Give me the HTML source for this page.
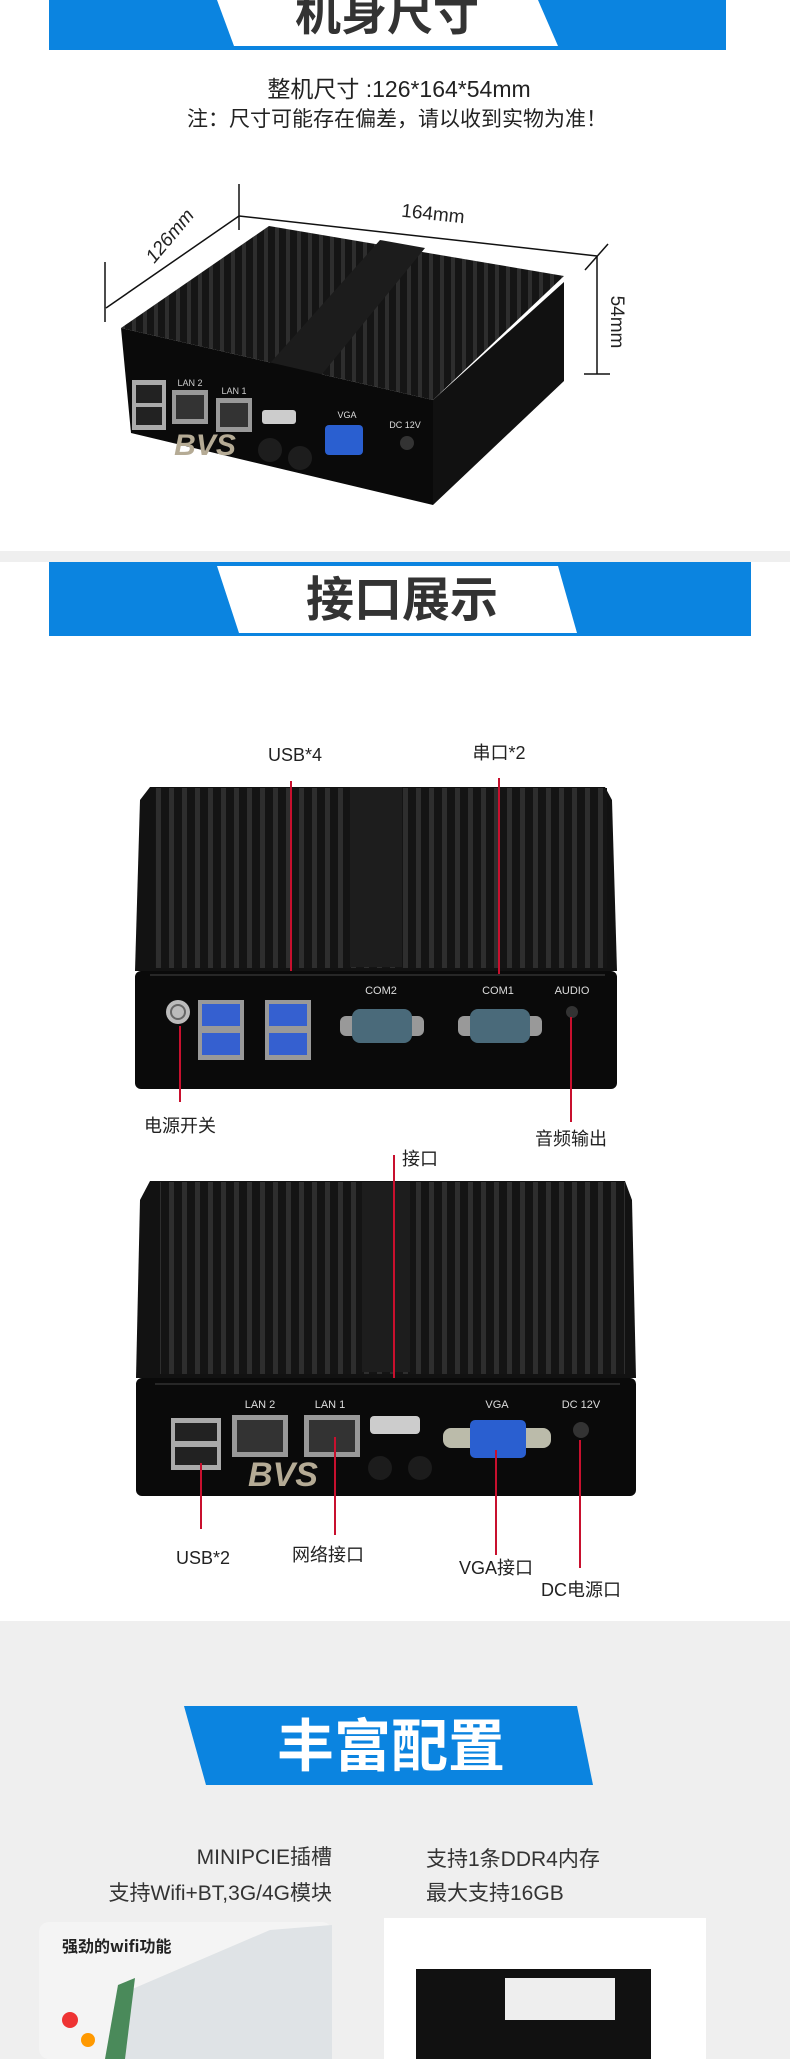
<!DOCTYPE html>
<html><head><meta charset="utf-8">
<style>
*{margin:0;padding:0}
html,body{width:790px;height:2059px;overflow:hidden}
body{background:#efefef;font-family:"Liberation Sans","Noto Sans CJK SC",sans-serif;position:relative}
.abs{position:absolute}
.t{position:absolute;white-space:nowrap;color:#222;transform:translateX(-50%);line-height:1}
</style></head><body>
<div class="abs" style="left:0;top:0;width:790px;height:551px;background:#fff"></div>
<div class="abs" style="left:0;top:562px;width:790px;height:1059px;background:#fff"></div>

<svg class="abs" style="left:0;top:0" width="790" height="2059" viewBox="0 0 790 2059">
<defs>
<pattern id="fin" width="11" height="10" patternUnits="userSpaceOnUse">
<rect width="11" height="10" fill="#151515"/><rect x="0" width="4" height="10" fill="#2e2e2e"/>
</pattern>
<pattern id="fin2" width="13" height="10" patternUnits="userSpaceOnUse">
<rect width="13" height="10" fill="#141414"/><rect x="0" width="5" height="10" fill="#2e2e2e"/>
</pattern>
</defs>
<!-- banner 1 -->
<rect x="49" y="0" width="677" height="50" fill="#0b84e0"/>
<polygon points="217,0 538,0 558,46 234,46" fill="#fff"/>
<text x="387" y="30" font-size="46" font-weight="bold" fill="#333" text-anchor="middle" font-family="Noto Sans CJK SC">机身尺寸</text>
<!-- dimension lines -->
<g stroke="#111" stroke-width="1.5" fill="none">
<line x1="239" y1="184" x2="239" y2="230"/>
<line x1="105" y1="262" x2="105" y2="322"/>
<line x1="239" y1="216" x2="106" y2="308"/>
<line x1="239" y1="216" x2="597" y2="256"/>
<line x1="585" y1="270" x2="608" y2="244"/>
<line x1="597" y1="256" x2="597" y2="374"/>
<line x1="584" y1="374" x2="610" y2="374"/>
</g>
<text x="433" y="220" font-size="19" fill="#222" text-anchor="middle" transform="rotate(6 433 214)">164mm</text>
<text x="170" y="242" font-size="19" fill="#222" text-anchor="middle" transform="rotate(-50 170 236)" font-style="italic">126mm</text>
<text x="611" y="322" font-size="19" fill="#222" text-anchor="middle" transform="rotate(90 611 322)">54mm</text>
<!-- device 1 -->
<polygon points="121,328 269,226 564,276 433,400" fill="url(#fin)"/>
<polygon points="255,380 380,240 425,248 305,395" fill="#1c1c1c"/>
<polygon points="121,328 433,400 433,505 131,433" fill="#0a0a0a"/>
<polygon points="433,400 564,282 564,381 433,505" fill="#111"/>
<rect x="132" y="380" width="34" height="50" fill="#aaa"/><rect x="136" y="385" width="26" height="18" fill="#222"/><rect x="136" y="407" width="26" height="18" fill="#222"/>
<rect x="172" y="390" width="36" height="34" fill="#999"/><rect x="176" y="395" width="28" height="24" fill="#333"/>
<rect x="216" y="398" width="36" height="34" fill="#999"/><rect x="220" y="403" width="28" height="24" fill="#333"/>
<text x="190" y="386" font-size="9" fill="#ccc" text-anchor="middle">LAN 2</text>
<text x="234" y="394" font-size="9" fill="#ccc" text-anchor="middle">LAN 1</text>
<rect x="262" y="410" width="34" height="14" rx="3" fill="#ccc"/>
<rect x="325" y="425" width="38" height="30" rx="4" fill="#2a5fd0"/>
<text x="347" y="418" font-size="9" fill="#ddd" text-anchor="middle">VGA</text>
<text x="405" y="428" font-size="9" fill="#ddd" text-anchor="middle">DC 12V</text>
<circle cx="407" cy="443" r="7" fill="#333"/>
<text x="205" y="455" font-size="30" font-weight="bold" font-style="italic" fill="#b5ab95" text-anchor="middle">BVS</text>
<circle cx="270" cy="450" r="12" fill="#1d1d1d"/><circle cx="300" cy="458" r="12" fill="#1d1d1d"/>

<!-- banner 2 -->
<rect x="49" y="562" width="702" height="74" fill="#0b84e0"/>
<polygon points="217,566 558,566 577,633 239,633" fill="#fff"/>
<text x="402" y="616" font-size="48" font-weight="bold" fill="#333" text-anchor="middle" font-family="Noto Sans CJK SC">接口展示</text>

<!-- device 2 -->
<path d="M150,787 L605,787 L612,800 L617,971 L135,971 L140,800 Z" fill="#121212"/>
<rect x="155" y="788" width="452" height="180" fill="url(#fin2)"/>
<rect x="350" y="787" width="52" height="180" fill="#1d1d1d"/>
<rect x="135" y="971" width="482" height="118" rx="6" fill="#0a0a0a"/>
<line x1="150" y1="975" x2="605" y2="975" stroke="#444"/>
<circle cx="178" cy="1012" r="12" fill="#bbb"/><circle cx="178" cy="1012" r="7" fill="none" stroke="#666" stroke-width="2"/>
<rect x="198" y="1000" width="46" height="60" fill="#999"/><rect x="202" y="1004" width="38" height="22" fill="#3560d0"/><rect x="202" y="1033" width="38" height="22" fill="#3560d0"/>
<rect x="265" y="1000" width="46" height="60" fill="#999"/><rect x="269" y="1004" width="38" height="22" fill="#3560d0"/><rect x="269" y="1033" width="38" height="22" fill="#3560d0"/>
<text x="381" y="994" font-size="11" fill="#ddd" text-anchor="middle">COM2</text>
<text x="498" y="994" font-size="11" fill="#ddd" text-anchor="middle">COM1</text>
<text x="572" y="994" font-size="11" fill="#ddd" text-anchor="middle">AUDIO</text>
<rect x="340" y="1016" width="84" height="20" rx="6" fill="#999"/><rect x="352" y="1009" width="60" height="34" rx="8" fill="#4a6a7a"/>
<rect x="458" y="1016" width="84" height="20" rx="6" fill="#999"/><rect x="470" y="1009" width="60" height="34" rx="8" fill="#4a6a7a"/>
<circle cx="572" cy="1012" r="6" fill="#333"/>

<!-- device 3 -->
<path d="M150,1181 L625,1181 L632,1200 L636,1378 L136,1378 L140,1200 Z" fill="#121212"/>
<rect x="160" y="1182" width="465" height="192" fill="url(#fin2)"/>
<rect x="362" y="1182" width="48" height="190" fill="#1d1d1d"/>
<rect x="136" y="1378" width="500" height="118" rx="6" fill="#0a0a0a"/>
<line x1="155" y1="1384" x2="620" y2="1384" stroke="#444"/>
<rect x="171" y="1418" width="50" height="52" fill="#aaa"/><rect x="175" y="1423" width="42" height="18" fill="#222"/><rect x="175" y="1447" width="42" height="18" fill="#222"/>
<rect x="232" y="1415" width="56" height="42" fill="#999"/><rect x="237" y="1420" width="46" height="32" fill="#333"/>
<rect x="304" y="1415" width="56" height="42" fill="#999"/><rect x="309" y="1420" width="46" height="32" fill="#333"/>
<text x="260" y="1408" font-size="11" fill="#ddd" text-anchor="middle">LAN 2</text>
<text x="330" y="1408" font-size="11" fill="#ddd" text-anchor="middle">LAN 1</text>
<rect x="370" y="1416" width="50" height="18" rx="4" fill="#ccc"/>
<text x="497" y="1408" font-size="11" fill="#ddd" text-anchor="middle">VGA</text>
<text x="581" y="1408" font-size="11" fill="#ddd" text-anchor="middle">DC 12V</text>
<rect x="443" y="1428" width="108" height="20" rx="8" fill="#bba"/>
<rect x="470" y="1420" width="56" height="38" rx="5" fill="#2a5fd0"/>
<circle cx="581" cy="1430" r="8" fill="#333"/>
<text x="283" y="1486" font-size="34" font-weight="bold" font-style="italic" fill="#b5ab95" text-anchor="middle">BVS</text>
<circle cx="380" cy="1468" r="12" fill="#1c1c1c"/><circle cx="420" cy="1468" r="12" fill="#1c1c1c"/>

<!-- red lines -->
<g stroke="#c8102e" stroke-width="2">
<line x1="291" y1="781" x2="291" y2="971"/>
<line x1="499" y1="778" x2="499" y2="974"/>
<line x1="180" y1="1026" x2="180" y2="1102"/>
<line x1="571" y1="1017" x2="571" y2="1122"/>
<line x1="394" y1="1155" x2="394" y2="1378"/>
<line x1="201" y1="1463" x2="201" y2="1529"/>
<line x1="335" y1="1437" x2="335" y2="1535"/>
<line x1="496" y1="1450" x2="496" y2="1555"/>
<line x1="580" y1="1440" x2="580" y2="1568"/>
</g>

<!-- banner 3 -->
<polygon points="184,1706 577,1706 593,1785 206,1785" fill="#0b84e0"/>
<text x="391" y="1766" font-size="57" font-weight="bold" fill="#fff" text-anchor="middle" font-family="Noto Sans CJK SC">丰富配置</text>

<!-- bottom images -->
<rect x="39" y="1922" width="293" height="137" rx="10" fill="#f4f4f4"/>
<polygon points="120,2059 130,1990 270,1930 332,1925 332,2059" fill="#dfe3e6"/>
<polygon points="105,2059 118,1985 135,1978 125,2059" fill="#4a8a5a"/>
<text x="62" y="1952" font-size="16" font-weight="bold" fill="#222" font-family="Noto Sans CJK SC">强劲的wifi功能</text>
<circle cx="70" cy="2020" r="8" fill="#e33"/><circle cx="88" cy="2040" r="7" fill="#f90"/>
<rect x="384" y="1918" width="322" height="141" fill="#fff"/>
<rect x="416" y="1969" width="235" height="90" fill="#111"/>
<rect x="505" y="1978" width="110" height="42" fill="#eee"/>
</svg>

<div class="t" style="left:399px;top:78px;font-size:23px">整机尺寸 :126*164*54mm</div>
<div class="t" style="left:397px;top:109px;font-size:21px">注：尺寸可能存在偏差，请以收到实物为准！</div>

<div class="t" style="left:295px;top:746px;font-size:18px">USB*4</div>
<div class="t" style="left:499px;top:744px;font-size:18px">串口*2</div>
<div class="t" style="left:180px;top:1117px;font-size:18px">电源开关</div>
<div class="t" style="left:571px;top:1130px;font-size:18px">音频输出</div>
<div class="t" style="left:410px;top:1150px;font-size:18px">&nbsp;&nbsp;&nbsp;&nbsp;接口</div>
<div class="t" style="left:203px;top:1549px;font-size:18px">USB*2</div>
<div class="t" style="left:328px;top:1546px;font-size:18px">网络接口</div>
<div class="t" style="left:496px;top:1559px;font-size:18px">VGA接口</div>
<div class="t" style="left:581px;top:1581px;font-size:18px">DC电源口</div>

<div class="abs" style="right:458px;top:1847px;font-size:21px;color:#333;white-space:nowrap;line-height:1">MINIPCIE插槽</div>
<div class="abs" style="right:458px;top:1883px;font-size:21px;color:#333;white-space:nowrap;line-height:1">支持Wifi+BT,3G/4G模块</div>
<div class="abs" style="left:426px;top:1849px;font-size:21px;color:#333;white-space:nowrap;line-height:1">支持1条DDR4内存</div>
<div class="abs" style="left:426px;top:1883px;font-size:21px;color:#333;white-space:nowrap;line-height:1">最大支持16GB</div>
</body></html>
